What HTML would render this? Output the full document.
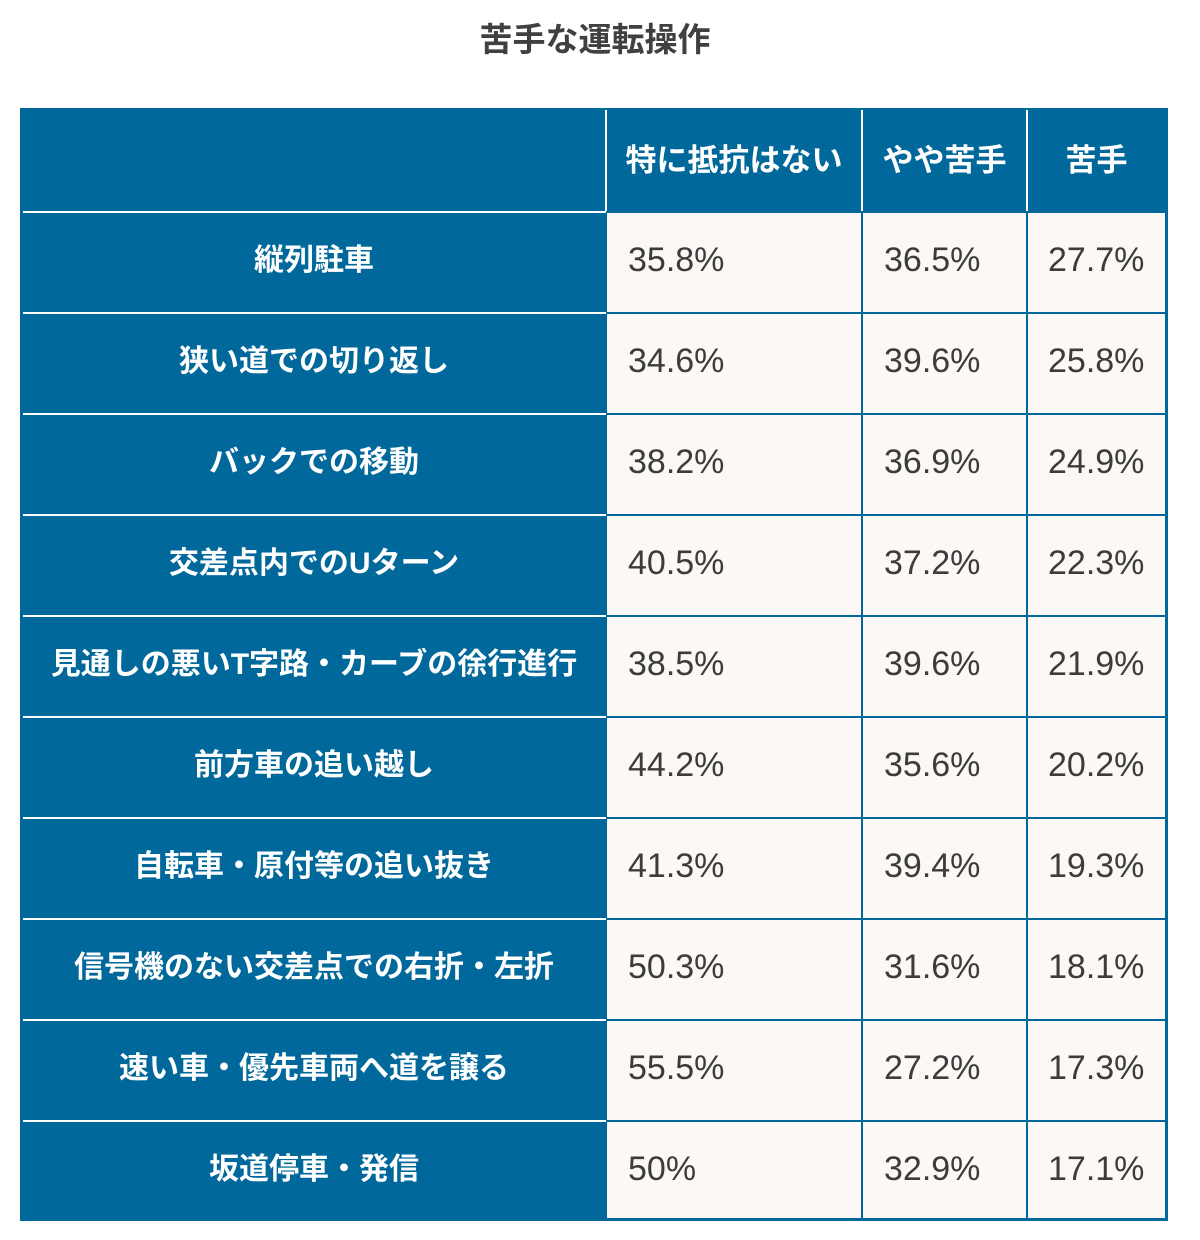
<!DOCTYPE html>
<html><head><meta charset="utf-8"><style>
body{margin:0;width:1200px;height:1240px;background:#fff;position:relative;font-family:"Liberation Sans","Noto Sans CJK JP",sans-serif;overflow:hidden}
.t{position:absolute;top:13px;left:0;width:1190px;text-align:center;font-size:33px;font-weight:bold;color:#404040}
.tb{position:absolute;left:20px;top:108px;width:1148px;height:1113px;background:#00689a}
.c{position:absolute;background:#fbf8f5;color:#3c3c3c;font-size:34px;line-height:94px;box-sizing:border-box}
.h{position:absolute;color:#fff;font-weight:bold;font-size:30px;text-align:center;white-space:nowrap}
.hl{position:absolute;background:#fff;height:2px}
.vl{position:absolute;background:#fff;width:2px}
</style></head><body>
<div class="t">苦手な運転操作</div>
<div class="tb"></div>
<div class="vl" style="left:605px;top:110px;height:101px"></div>
<div class="vl" style="left:861px;top:110px;height:101px"></div>
<div class="vl" style="left:1026px;top:110px;height:101px"></div>
<div class="h" style="left:607px;width:254px;top:135px;font-size:31px">特に抵抗はない</div>
<div class="h" style="left:863px;width:163px;top:135px;font-size:31px">やや苦手</div>
<div class="h" style="left:1028px;width:137px;top:135px;font-size:31px">苦手</div>
<div id="rows"></div>
<script>
const d=[["縦列駐車","35.8%","36.5%","27.7%"],["狭い道での切り返し","34.6%","39.6%","25.8%"],["バックでの移動","38.2%","36.9%","24.9%"],["交差点内でのUターン","40.5%","37.2%","22.3%"],["見通しの悪いT字路・カーブの徐行進行","38.5%","39.6%","21.9%"],["前方車の追い越し","44.2%","35.6%","20.2%"],["自転車・原付等の追い抜き","41.3%","39.4%","19.3%"],["信号機のない交差点での右折・左折","50.3%","31.6%","18.1%"],["速い車・優先車両へ道を譲る","55.5%","27.2%","17.3%"],["坂道停車・発信","50%","32.9%","17.1%"]];
let h="";
d.forEach((r,i)=>{const y=211+101*i;const hh=i==9?96:99;
h+=`<div class="hl" style="left:23px;top:${y}px;width:583px"></div>`;
h+=`<div class="h" style="left:22px;width:584px;top:${y+24}px">${r[0]}</div>`;
h+=`<div class="c" style="left:607px;top:${y+2}px;width:254px;height:${hh}px;padding-left:21px">${r[1]}</div>`;
h+=`<div class="c" style="left:863px;top:${y+2}px;width:163px;height:${hh}px;padding-left:21px">${r[2]}</div>`;
h+=`<div class="c" style="left:1028px;top:${y+2}px;width:137px;height:${hh}px;padding-left:20px">${r[3]}</div>`;
});
document.getElementById("rows").innerHTML=h;
</script>
</body></html>
